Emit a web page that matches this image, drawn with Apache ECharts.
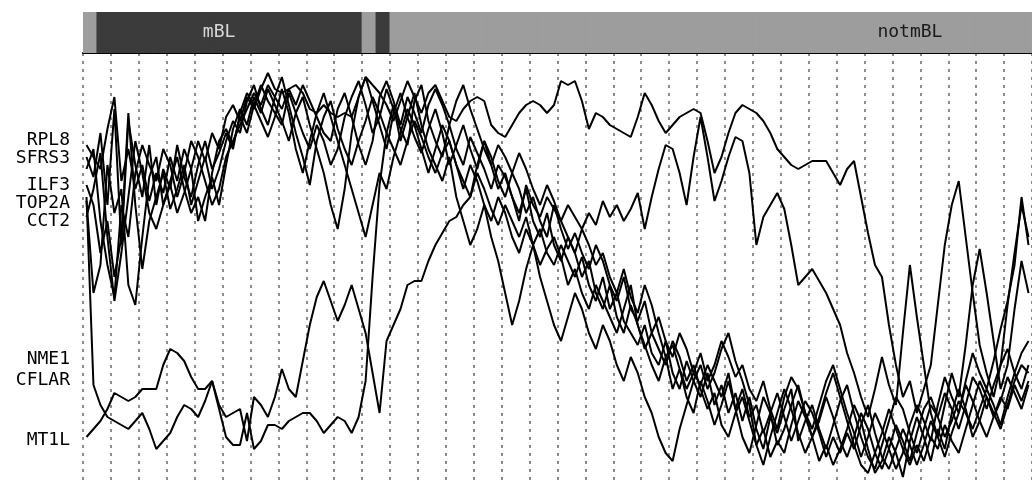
<!DOCTYPE html>
<html>
<head>
<meta charset="utf-8">
<title>mBL / notmBL profiles</title>
<script src="https://cdn.jsdelivr.net/npm/echarts@6/dist/echarts.min.js"></script>
<style>
  html, body { margin: 0; background: #fff; }
  #chart { width: 1032px; height: 485px; }
</style>
</head>
<body>
<div id="chart"></div>
<script>
const genes = ["RPL8", "SFRS3", "ILF3", "TOP2A", "CCT2", "NME1", "CFLAR", "MT1L"];
const groupRuns = [["notmBL", 2], ["mBL", 38], ["notmBL", 2], ["mBL", 2], ["notmBL", 92]];

const rpl8 = [
  85, 82, 79, 89, 97, 76, 84, 74, 80, 71,
  78, 73, 82, 76, 84, 79, 86, 81, 88, 84,
  92, 95, 91, 97, 94, 99, 103, 99, 98, 99,
  100, 98, 94, 93, 95, 93, 92, 93, 92, 97,
  102, 100, 98, 95, 91, 96, 101, 97, 93, 98,
  100, 96, 92, 91, 94, 96, 97, 96, 90, 88,
  87, 90, 93, 95, 96, 95, 93, 95, 101, 100,
  101, 96, 89, 93, 92, 90, 89, 88, 87, 92,
  98, 95, 91, 88, 90, 92, 93, 94, 93, 86,
  78, 82, 88, 93, 95, 94, 93, 91, 88, 84,
  82, 80, 79, 80, 81, 81, 81, 78, 75, 79,
  81, 72, 63, 55, 52, 40, 30, 22, 26, 18,
  24, 30, 45, 60, 70, 76, 62, 48, 35, 28,
  22, 30, 45, 58, 70, 62
];
const sfrs3 = [
  82, 77, 88, 70, 94, 60, 91, 80, 72, 85,
  70, 79, 74, 85, 77, 72, 80, 86, 79, 83,
  88, 84, 93, 98, 95, 100, 96, 93, 90, 98,
  93, 88, 84, 90, 86, 80, 84, 92, 97, 101,
  95, 88, 92, 99, 94, 89, 85, 96, 100, 91,
  86, 82, 90, 84, 80, 87, 83, 79, 74, 80,
  77, 72, 66, 75, 70, 67, 72, 69, 66, 70,
  67, 64, 68, 65, 71, 67, 70, 66, 69, 73,
  64, 72, 79, 85, 84, 78, 70, 82, 92, 82,
  71, 76, 82, 87, 86, 78, 60, 67, 70, 73,
  69, 60, 50, 52, 54, 51, 48, 44, 40, 33,
  28, 22, 17, 24, 32, 25, 20, 38, 55, 42,
  30, 18, 12, 20, 28, 22, 35, 50, 59, 48,
  36, 24, 30, 44, 56, 48
];
const ilf3 = [
  75, 70, 58, 66, 52, 62, 93, 70, 54, 66,
  72, 78, 69, 74, 80, 70, 76, 82, 74, 79,
  86, 91, 88, 96, 100, 94, 90, 97, 102, 95,
  88, 82, 75, 86, 92, 96, 89, 84, 80, 86,
  91, 97, 93, 88, 84, 80, 86, 91, 87, 82,
  78, 83, 86, 80, 76, 72, 78, 74, 69, 65,
  70, 66, 62, 67, 60, 64, 58, 55, 60, 56,
  52, 57, 50, 46, 52, 44, 48, 41, 38, 35,
  40, 33, 30, 36, 28, 24, 31, 26, 22, 28,
  20, 25, 18, 23, 16, 22, 14, 9, 17, 13,
  19, 24, 11, 16, 20, 14, 9, 15, 21, 25,
  18, 12, 7, 4, 10, 16, 22, 19, 13, 8,
  14, 20, 17, 23, 19, 14, 20, 27, 24, 19,
  25, 30, 34, 28, 33, 36
];
const top2a = [
  71, 48, 55, 80, 68, 74, 50, 45, 62, 77,
  82, 70, 75, 68, 73, 79, 66, 72, 77, 70,
  80, 89, 94, 90, 97, 93, 99, 95, 91, 86,
  93, 97, 90, 84, 78, 70, 64, 74, 88, 97,
  102, 96, 90, 84, 93, 98, 92, 87, 83, 89,
  94, 88, 80, 85, 90, 84, 79, 86, 82, 76,
  72, 78, 74, 68, 72, 66, 62, 70, 64, 59,
  63, 58, 54, 60, 56, 50, 46, 52, 44, 41,
  46, 38, 34, 30, 36, 32, 26, 30, 24, 19,
  23, 15, 12, 18, 22, 16, 10, 14, 7, 11,
  8, 15, 21, 17, 12, 6, 10, 5, 9, 14,
  20, 16, 9, 3, 6, 12, 8, 2, 11, 17,
  12, 6, 14, 9, 18, 24, 19, 12, 16, 22,
  18, 14, 20, 26, 30, 28
];
const cct2 = [
  67, 74, 83, 62, 46, 58, 72, 86, 78, 68,
  64, 70, 76, 82, 74, 68, 72, 66, 78, 86,
  89, 85, 92, 88, 95, 91, 87, 92, 99, 93,
  84, 78, 86, 93, 98, 92, 86, 80, 74, 68,
  62, 70, 78, 74, 82, 88, 94, 90, 84, 78,
  84, 90, 86, 80, 74, 80, 76, 70, 66, 72,
  68, 62, 58, 64, 60, 55, 59, 62, 57, 50,
  54, 48, 44, 50, 46, 42, 38, 44, 50, 40,
  34, 38, 42, 36, 32, 38, 34, 28, 25, 30,
  26, 22, 28, 19, 24, 17, 20, 13, 18, 23,
  17, 11, 16, 21, 18, 13, 7, 12, 8, 13,
  9, 15, 20, 13, 7, 4, 9, 14, 10, 5,
  10, 16, 12, 7, 13, 18, 25, 21, 16, 12,
  17, 22, 19, 25, 21, 26
];
const nme1 = [
  72, 25, 20, 17, 16, 15, 14, 16, 18, 14,
  9, 11, 13, 17, 20, 19, 17, 21, 26, 19,
  12, 10, 10, 18, 9, 11, 15, 15, 14, 16,
  17, 18, 18, 16, 13, 15, 17, 16, 13, 17,
  26, 52, 75, 88, 95, 86, 92, 98, 90, 84,
  80, 76, 82, 72, 66, 60, 64, 70, 62, 56,
  48, 40, 46, 54, 60, 52, 46, 40, 36, 42,
  48, 44, 38, 34, 40, 36, 30, 26, 32, 28,
  22, 18, 12, 8, 6, 14, 20, 26, 30, 24,
  28, 34, 38, 31, 26, 20, 10, 5, 12, 18,
  24, 19, 13, 8, 12, 17, 23, 28, 22, 16,
  10, 5, 3, 8, 13, 19, 14, 9, 5, 10,
  6, 12, 9, 15, 11, 8, 14, 20, 26, 22,
  17, 21, 27, 23, 19, 25
];
const cflar = [
  79, 84, 66, 55, 47, 70, 62, 78, 85, 80,
  76, 84, 80, 72, 78, 86, 82, 76, 70, 74,
  82, 86, 90, 94, 98, 95, 100, 97, 94, 99,
  95, 100, 96, 92, 88, 86, 94, 98, 92, 85,
  80, 86, 97, 101, 96, 90, 97, 93, 88, 95,
  99, 95, 90, 96, 100, 94, 89, 84, 80, 85,
  82, 78, 83, 79, 74, 70, 75, 71, 66, 62,
  58, 64, 60, 55, 58, 52, 48, 54, 47, 43,
  50, 45, 38, 32, 35, 29, 24, 28, 33, 26,
  30, 36, 32, 27, 30, 24, 21, 26, 19, 14,
  22, 27, 24, 18, 14, 20, 26, 30, 24, 18,
  13, 7, 12, 18, 14, 9, 4, 8, 15, 20,
  16, 11, 20, 27, 22, 18, 26, 33, 28, 24,
  31, 39, 46, 55, 72, 60
];
const mt1l = [
  12, 14, 16, 19, 23, 22, 21, 22, 24, 24,
  24, 30, 34, 33, 31, 27, 24, 24, 26, 20,
  17, 18, 19, 11, 22, 20, 17, 22, 29, 24,
  22, 31, 40, 47, 51, 46, 41, 45, 50, 44,
  38, 28, 18, 36, 40, 44, 50, 51, 51, 56,
  60, 63, 66, 67, 70, 72, 80, 86, 80, 74,
  78, 72, 68, 74, 66, 62, 68, 60, 56, 62,
  58, 52, 56, 48, 44, 50, 42, 38, 45, 40,
  35, 30, 26, 32, 24, 29, 22, 18, 26, 21,
  15, 20, 26, 19, 12, 8, 15, 22, 18, 10,
  14, 20, 25, 18, 12, 16, 22, 17, 11, 7,
  12, 18, 14, 8, 4, 9, 15, 11, 6, 13,
  19, 22, 17, 12, 16, 21, 18, 14, 19, 24,
  20, 15, 22, 28, 24, 30
];

const profiles = [rpl8, sfrs3, ilf3, top2a, cct2, nme1, cflar, mt1l];

const groups = groupRuns.flatMap(([name, n]) => Array(n).fill(name));
const samples = groups.map((_, i) => `S${i + 1}`);

// layout of the hand-placed texts
const font = '"DejaVu Sans Mono", monospace';
const groupStyle = {
  mBL: { color: "#3b3b3b", text: "#d8d8d8", labelAt: 19 },
  notmBL: { color: "#9d9d9d", text: "#1a1a1a", labelAt: 118 },
};
const geneLabelY = [140, 158, 185, 203, 221, 359, 380, 440];

const chart = echarts.init(document.querySelector("#chart"));
chart.setOption({
  animation: false,
  grid: [
    { left: 83, right: 0, top: 12, height: 41 },
    { left: 83, right: 0, top: 53, bottom: 0 },
  ],
  xAxis: [
    {
      type: "category",
      gridIndex: 0,
      data: samples,
      boundaryGap: true,
      axisLine: { show: true, lineStyle: { color: "#000", width: 2 } },
      axisTick: { show: false },
      axisLabel: { show: false },
    },
    {
      type: "category",
      gridIndex: 1,
      data: samples,
      boundaryGap: true,
      axisLine: { show: false },
      axisTick: { show: false },
      axisLabel: { show: false },
      splitLine: { show: true, interval: 3, lineStyle: { color: "#8c8c8c", width: 2, type: [3, 5] } },
    },
  ],
  yAxis: [
    { type: "value", gridIndex: 0, min: 0, max: 1, show: false },
    { type: "value", gridIndex: 1, min: 0, max: 108, show: false },
  ],
  graphic: genes.map((gene, k) => ({
    type: "text",
    x: 70,
    y: geneLabelY[k],
    style: { text: gene, textAlign: "right", textVerticalAlign: "middle", font: `18px ${font}`, fill: "#000" },
  })),
  series: [
    {
      type: "bar",
      xAxisIndex: 0,
      yAxisIndex: 0,
      barWidth: 8,
      data: groups.map((g, i) => {
        const s = groupStyle[g];
        return {
          value: 1,
          itemStyle: { color: s.color },
          label: i === s.labelAt
            ? { show: true, position: "inside", formatter: g, color: s.text, fontFamily: font, fontSize: 18 }
            : { show: false },
        };
      }),
    },
    ...profiles.map((data, k) => ({
      type: "line",
      name: genes[k],
      xAxisIndex: 1,
      yAxisIndex: 1,
      data,
      symbol: "none",
      lineStyle: { color: "#000", width: 2 },
      z: 3,
    })),
  ],
});
</script>
</body>
</html>
